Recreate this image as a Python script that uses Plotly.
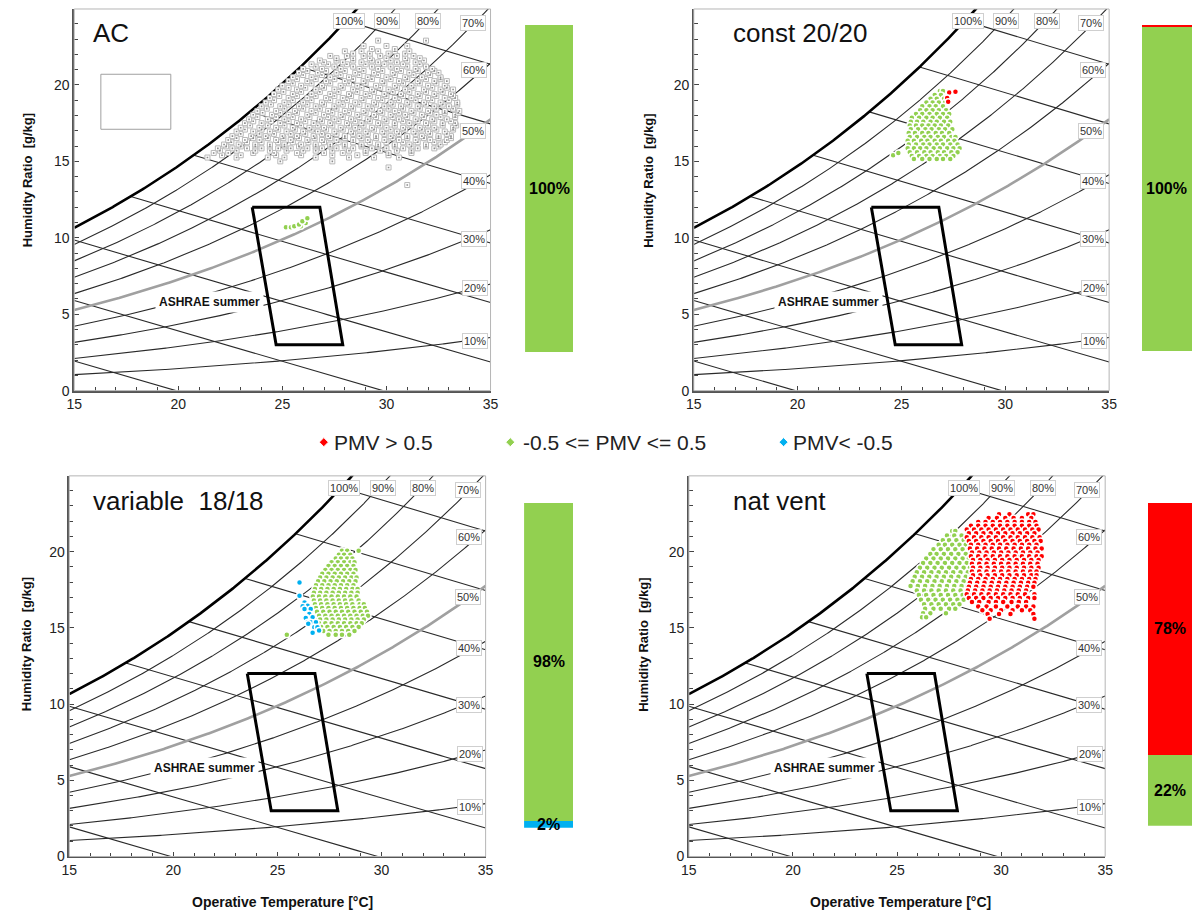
import numpy as np
import plotly.graph_objects as go

# the page adds an 8 px body margin; every position is shifted by 8 px to compensate
PAGE_OFF = 8
FIG_W, FIG_H = 1200 - PAGE_OFF, 920 - PAGE_OFF
FONT = "Arial, 'Liberation Sans', sans-serif"
P_ATM = 101.325

# ---------------- chart data ----------------
RH_LEVELS = [10, 20, 30, 40, 50, 60, 70, 80, 90, 100]
RH_LABELS = ["10%", "20%", "30%", "40%", "50%", "60%", "70%", "80%", "90%", "100%"]
RH_LABEL_T = [34.25, 34.25, 34.2, 34.2, 34.15, 34.2, 34.15, 32.0, 30.05, 28.2]
RH_LABEL_W = [3.25, 6.7, 9.95, 13.7, 17.0, 20.97, 24.07, 24.2, 24.2, 24.2]
ENTHALPY_LEVELS = [20, 30, 40, 50, 60, 70, 80, 90]

ASHRAE_T = [23.55, 26.8, 27.9, 24.7, 23.55]
ASHRAE_W = [12.0, 12.0, 3.0, 3.0, 12.0]
ASHRAE_LABEL = ("ASHRAE summer", 21.5, 5.8)

PANEL_TITLES = ["AC", "const 20/20", "variable\u00a0 18/18", "nat vent"]

BAR_BLUE = [0, 0, 2, 0]
BAR_GREEN = [100, 99.6, 98, 22]
BAR_RED = [0, 0.4, 0, 78]
BAR_TEXT_BLUE = ["", "", "2%", ""]
BAR_TEXT_GREEN = ["100%", "100%", "98%", "22%"]
BAR_TEXT_RED = ["", "", "", "78%"]

LEGEND_NAMES = ["PMV &gt; 0.5", "-0.5 &lt;= PMV &lt;= 0.5", "PMV&lt; -0.5"]

C_RED = "#FF0000"
C_GREEN = "#92D050"
C_BLUE = "#00B0F0"

# scatter clouds: "W : T T T ..."  (humidity ratio g/kg : operative temperature degC)
AC_GREY = [
    "13.45: 31.0", "14.6: 30.1", "15.0: 24.9 27.4",
    "15.25: 21.4 22.8 24.3 25.1 26.6 28.2 29.4 30.6",
    "15.4: 22.1 23.0 24.7 25.9 27.4 28.6 30.1",
    "15.55: 21.7 22.4 23.6 24.6 25.7 27.0 27.9 29.0 30.1 31.2",
    "15.7: 22.0 22.8 23.7 24.4 25.2 26.0 26.6 27.4 28.2 29.0 29.7 30.5 31.2",
    "15.85: 21.9 22.6 23.3 24.0 24.8 25.4 26.2 26.9 27.6 28.4 29.3 30.0 30.8 31.5 32.3",
    "15.98: 22.3 23.0 23.7 24.4 25.1 25.8 26.6 27.3 28.0 28.8 29.6 30.4 31.2 31.9 32.5",
    "16.1: 22.2 22.9 23.7 24.4 25.1 25.9 26.6 27.3 28.0 28.8 29.6 30.4 31.1 31.9 32.6",
    "16.25: 22.55 23.3 24.0 24.8 25.5 26.25 27.0 27.7 28.4 29.2 30.0 30.8 31.5 32.3 32.8",
    "16.4: 22.4 23.2 23.9 24.7 25.4 26.2 26.9 27.6 28.4 29.1 29.9 30.6 31.4 32.1 32.9",
    "16.52: 22.8 23.6 24.3 25.05 25.8 26.55 27.3 28.0 28.8 29.5 30.3 31.0 31.8 32.5 33.1",
    "16.65: 22.6 23.5 24.2 25.0 25.7 26.5 27.2 28.0 28.7 29.5 30.2 31.0 31.7 32.5 33.1",
    "16.8: 23.0 23.9 24.6 25.4 26.1 26.9 27.6 28.4 29.1 29.9 30.6 31.4 32.1 32.9",
    "16.95: 22.8 23.6 24.4 25.2 26.0 26.7 27.5 28.3 29.0 29.8 30.5 31.3 32.0 32.8",
    "17.08: 23.2 24.0 24.8 25.6 26.4 27.1 27.9 28.7 29.4 30.2 30.9 31.7 32.4 33.2",
    "17.2: 23.0 23.9 24.7 25.5 26.3 27.0 27.8 28.5 29.3 30.0 30.8 31.6 32.3 33.2",
    "17.35: 23.45 24.3 25.1 25.9 26.7 27.4 28.2 28.9 29.7 30.4 31.2 32.0 32.7 33.35",
    "17.5: 23.2 24.0 24.9 25.7 26.5 27.3 28.1 28.8 29.6 30.4 31.1 31.9 32.7 33.3",
    "17.62: 23.6 24.45 25.3 26.1 26.9 27.7 28.5 29.2 30.0 30.8 31.5 32.3 33.1",
    "17.75: 23.4 24.3 25.1 25.9 26.8 27.5 28.3 29.1 29.9 30.6 31.4 32.2 32.9",
    "17.9: 23.8 24.7 25.5 26.3 27.2 27.9 28.7 29.5 30.3 31.0 31.8 32.6 33.3",
    "18.05: 23.6 24.5 25.3 26.2 27.0 27.8 28.6 29.4 30.2 30.9 31.7 32.4 33.3",
    "18.18: 24.05 24.9 25.7 26.6 27.4 28.2 29.0 29.8 30.6 31.3 32.1 32.8 33.45",
    "18.3: 23.8 24.7 25.6 26.4 27.2 28.0 28.9 29.7 30.4 31.2 32.0 32.8 33.5",
    "18.45: 24.25 25.1 26.0 26.8 27.6 28.4 29.3 30.1 30.8 31.6 32.4 33.2",
    "18.6: 24.0 24.9 25.8 26.6 27.5 28.3 29.1 29.9 30.7 31.5 32.3 33.0",
    "18.72: 24.45 25.3 26.2 27.0 27.9 28.7 29.5 30.3 31.1 31.9 32.7 33.4",
    "18.85: 24.2 25.1 26.0 26.9 27.7 28.5 29.4 30.2 31.0 31.8 32.6 33.4",
    "19.0: 24.6 25.5 26.4 27.3 28.1 28.9 29.8 30.6 31.4 32.2 33.0",
    "19.15: 24.4 25.3 26.2 27.1 27.9 28.8 29.6 30.4 31.2 32.0 32.8 33.3",
    "19.28: 24.85 25.7 26.6 27.5 28.3 29.2 30.0 30.8 31.6 32.4 33.2",
    "19.4: 24.6 25.5 26.4 27.3 28.2 29.0 29.9 30.7 31.5 32.3 33.1",
    "19.55: 25.05 25.9 26.8 27.7 28.6 29.4 30.3 31.1 31.9 32.7",
    "19.7: 24.8 25.7 26.6 27.5 28.4 29.3 30.1 30.9 31.8 32.6 33.2",
    "19.82: 25.3 26.1 27.0 27.9 28.8 29.7 30.5 31.3 32.2 32.9",
    "19.95: 25.0 25.9 26.9 27.8 28.6 29.5 30.4 31.2 32.0 32.8",
    "20.1: 25.5 26.4 27.3 28.2 29.0 29.9 30.8 31.6 32.4",
    "20.25: 25.3 26.2 27.1 28.0 28.9 29.8 30.6 31.5 32.3 32.9",
    "20.38: 25.7 26.6 27.5 28.4 29.3 30.2 31.0 31.9 32.6",
    "20.5: 25.5 26.4 27.3 28.2 29.1 30.0 30.9 31.7 32.6",
    "20.65: 26.0 26.9 27.8 28.7 29.6 30.4 31.3 32.1",
    "20.8: 25.8 26.7 27.6 28.5 29.4 30.3 31.1 32.0 32.5",
    "20.92: 26.2 27.1 28.0 28.9 29.8 30.7 31.5 32.3",
    "21.05: 26.0 26.9 27.8 28.7 29.6 30.5 31.4 32.2",
    "21.2: 26.6 27.5 28.4 29.3 30.2 31.0 31.9",
    "21.35: 26.4 27.2 28.1 29.0 29.9 30.8 31.6",
    "21.48: 27.0 27.9 28.8 29.6 30.5 31.4",
    "21.6: 26.8 27.6 28.4 29.3 30.2 31.0 31.8",
    "21.75: 27.6 28.4 29.2 30.0 30.9 31.6",
    "21.9: 27.3 28.1 28.9 29.7 30.5 31.3",
    "22.05: 28.4 29.2 30.1 30.9",
    "22.2: 28.0 28.8 29.6 30.4 31.1",
    "22.35: 29.3 30.4",
    "22.55: 28.9 30.0 31.0",
    "22.9: 29.6 31.9",
]
AC_GREEN = ["10.69: 25.17 25.41", "10.76: 25.57 25.89", "10.87: 25.8",
            "10.97: 26.12", "11.08: 25.96", "11.27: 26.2"]

CONST_GREEN = [
    "15.4: 24.6", "15.55: 24.85",
    "19.6: 26.85 27.0",
    "19.35: 26.6 26.9",
    "19.1: 26.4 26.7 27.05",
    "18.85: 26.2 26.5 26.8 27.1",
    "18.6: 26.0 26.35 26.65 27.0",
    "18.35: 25.9 26.2 26.5 26.8 27.15",
    "18.1: 25.7 26.0 26.35 26.7 27.0 27.3",
    "17.85: 25.5 25.85 26.2 26.5 26.85 27.2",
    "17.6: 25.45 25.75 26.05 26.4 26.7 27.05 27.35",
    "17.35: 25.4 25.7 26.0 26.3 26.6 26.9 27.25",
    "17.1: 25.45 25.8 26.15 26.45 26.8 27.1 27.45",
    "16.85: 25.35 25.65 26.0 26.3 26.65 26.95 27.3",
    "16.6: 25.4 25.75 26.1 26.4 26.75 27.05 27.4 27.6",
    "16.35: 25.3 25.6 25.95 26.25 26.6 26.9 27.25 27.55",
    "16.1: 25.35 25.7 26.05 26.35 26.7 27.0 27.35 27.7",
    "15.85: 25.3 25.6 25.9 26.2 26.55 26.85 27.2 27.5 27.8",
    "15.6: 25.4 25.75 26.1 26.4 26.75 27.05 27.4 27.7",
    "15.35: 25.5 25.85 26.2 26.5 26.85 27.15 27.5",
    "15.15: 25.6 26.0 26.35 26.7 27.0 27.35",
]
CONST_RED = ["19.5: 27.3", "19.55: 27.6", "19.15: 27.2", "18.9: 27.25"]

VAR_GREEN = [
    "14.55: 25.45",
    "20.05: 28.1 28.35 28.9",
    "19.8: 27.95 28.2 28.5",
    "19.55: 27.8 28.05 28.35 28.6",
    "19.3: 27.6 27.9 28.2 28.5 28.7",
    "19.05: 27.45 27.75 28.05 28.35 28.65",
    "18.8: 27.3 27.6 27.9 28.2 28.5 28.75",
    "18.55: 27.15 27.45 27.75 28.05 28.35 28.65",
    "18.3: 27.05 27.35 27.65 27.95 28.25 28.55 28.8",
    "18.05: 26.95 27.25 27.55 27.85 28.15 28.45 28.75",
    "17.8: 26.85 27.15 27.45 27.75 28.05 28.35 28.65",
    "17.55: 26.8 27.1 27.4 27.7 28.0 28.3 28.6 28.85",
    "17.3: 26.75 27.05 27.35 27.65 27.95 28.25 28.55 28.85",
    "17.05: 26.7 27.0 27.3 27.6 27.9 28.2 28.5 28.8",
    "16.8: 26.75 27.05 27.35 27.65 27.95 28.25 28.55 28.9",
    "16.55: 26.8 27.1 27.4 27.7 28.0 28.3 28.6 28.95 29.15",
    "16.3: 26.85 27.15 27.45 27.75 28.05 28.35 28.65 28.95 29.2",
    "16.05: 26.9 27.2 27.5 27.8 28.1 28.4 28.7 29.0 29.3",
    "15.8: 27.0 27.3 27.6 27.9 28.2 28.5 28.8 29.1 29.35",
    "15.55: 27.05 27.35 27.65 27.95 28.25 28.55 28.85 29.15",
    "15.3: 27.0 27.3 27.6 27.9 28.2 28.5 28.8 29.05",
    "15.05: 27.1 27.4 27.7 28.0 28.3 28.6 28.9",
    "14.8: 27.2 27.5 27.8 28.1 28.4 28.7",
    "14.55: 27.45 27.8 28.1 28.45",
]
VAR_BLUE = [
    "17.97: 26.06", "17.1: 26.06", "16.67: 26.3", "16.45: 26.45", "16.41: 26.21",
    "16.23: 26.3 26.6", "15.9: 26.53", "15.69: 26.37 26.69", "15.65: 26.36",
    "15.36: 26.45 26.6 26.85", "15.26: 26.48", "15.04: 26.77 26.92",
    "14.82: 27.0", "14.68: 26.69",
]

NAT_GREEN = [
    "21.35: 27.65 27.8",
    "21.05: 27.4 27.75 28.1",
    "20.75: 27.2 27.5 27.85 28.2",
    "20.45: 27.0 27.3 27.65 28.0 28.3",
    "20.15: 26.75 27.1 27.45 27.8 28.15 28.45",
    "19.85: 26.6 26.9 27.25 27.6 27.95 28.3",
    "19.55: 26.4 26.75 27.1 27.45 27.8 28.15 28.45",
    "19.25: 26.25 26.6 26.95 27.3 27.65 28.0 28.35",
    "18.95: 26.1 26.45 26.8 27.15 27.5 27.85 28.2 28.5",
    "18.65: 25.95 26.3 26.65 27.0 27.35 27.7 28.05 28.4",
    "18.35: 25.85 26.2 26.55 26.9 27.25 27.6 27.95 28.3 28.55",
    "18.05: 25.75 26.1 26.45 26.8 27.15 27.5 27.85 28.2 28.5",
    "17.75: 25.65 26.0 26.35 26.7 27.05 27.4 27.75 28.1 28.4",
    "17.45: 25.95 26.3 26.65 27.0 27.35 27.7 28.05 28.35",
    "17.15: 26.05 26.4 26.75 27.1 27.45 27.8 28.15",
    "16.85: 26.15 26.5 26.85 27.2 27.55 27.9 28.2",
    "16.55: 26.3 26.65 27.0 27.35 27.7 28.0",
    "16.25: 26.35 26.75 27.1 27.5 27.8",
    "15.95: 26.25 26.6 27.35",
    "15.7: 26.2 26.4",
]
NAT_RED = [
    "22.45: 29.9 30.4 31.3 31.55",
    "22.2: 29.4 29.8 30.2 30.6 31.0 31.45",
    "21.95: 28.9 29.25 29.6 29.95 30.3 30.65 31.0 31.35 31.65",
    "21.7: 28.55 28.9 29.25 29.6 29.95 30.3 30.65 31.0 31.35 31.7",
    "21.45: 28.35 28.7 29.05 29.4 29.75 30.1 30.45 30.8 31.15 31.5 31.8",
    "21.2: 28.45 28.8 29.15 29.5 29.85 30.2 30.55 30.9 31.25 31.6",
    "20.95: 28.35 28.7 29.05 29.4 29.75 30.1 30.45 30.8 31.15 31.5 31.85",
    "20.7: 28.45 28.8 29.15 29.5 29.85 30.2 30.55 30.9 31.25 31.6 31.9",
    "20.45: 28.55 28.9 29.25 29.6 29.95 30.3 30.65 31.0 31.35 31.7",
    "20.2: 28.5 28.85 29.2 29.55 29.9 30.25 30.6 30.95 31.3 31.65 31.95",
    "19.95: 28.6 28.95 29.3 29.65 30.0 30.35 30.7 31.05 31.4 31.75",
    "19.7: 28.55 28.9 29.25 29.6 29.95 30.3 30.65 31.0 31.35 31.7 31.95",
    "19.45: 28.65 29.0 29.35 29.7 30.05 30.4 30.75 31.1 31.45 31.8",
    "19.2: 28.6 28.95 29.3 29.65 30.0 30.35 30.7 31.05 31.4 31.75",
    "18.95: 28.65 29.0 29.35 29.7 30.05 30.4 30.75 31.1 31.45 31.8",
    "18.7: 28.6 28.95 29.3 29.65 30.0 30.35 30.7 31.05 31.4 31.7",
    "18.45: 28.65 29.0 29.35 29.7 30.05 30.4 30.75 31.1 31.45 31.7",
    "18.2: 28.55 28.9 29.25 29.6 29.95 30.3 30.65 31.0 31.35 31.65",
    "17.95: 28.5 28.85 29.2 29.55 29.9 30.25 30.6 30.95 31.3 31.6",
    "17.7: 28.45 28.8 29.15 29.5 29.85 30.2 30.55 30.9 31.25 31.55",
    "17.45: 28.4 28.75 29.1 29.45 29.8 30.15 30.5 30.85 31.2",
    "17.2: 28.35 28.7 29.05 29.4 29.75 30.1 30.45 30.8 31.15 31.6",
    "16.95: 28.45 28.8 29.15 29.5 29.85 30.2 30.55 30.9 31.3 31.6",
    "16.7: 28.6 28.95 29.4 29.75 30.1 30.5 30.85 31.2",
    "16.4: 28.9 29.3 29.75 30.3 30.8 31.2 31.55",
    "16.15: 29.1 29.5 30.0 30.55 31.0 31.4",
    "15.9: 29.35 29.9 30.45 31.55",
    "15.6: 29.45 31.6",
]

# ---------------- layout geometry (window pixels) ----------------
PANEL_BOX = [(67, 489, 9, 394), (695, 1116, 9, 394), (62, 484, 480, 864), (690, 1112, 480, 864)]
BAR_BOX = [(524, 573, 25, 355), (1149, 1200, 25, 354), (523, 573, 507, 835), (1155, 1200, 507, 833)]
TITLE_POS = [(84, 33), (733, 33), (84, 505), (733, 505)]
YTITLE_POS = [(20, 182), (649, 182), (19, 650), (644, 650)]
XTITLE_POS = [None, None, (278, 910), (905, 910)]
LEGEND_MARK_X = [320, 509, 786]
LEGEND_TEXT_X = [328, 520, 794]
LEGEND_Y = 446


def px(x):
    return min(1.0, max(0.0, (x - PAGE_OFF) / FIG_W))


def py(y):
    return min(1.0, max(0.0, 1 - (y - PAGE_OFF) / FIG_H))


def parse_rows(rows):
    xs, ys = [], []
    for row in rows:
        w_str, t_str = row.split(":")
        for v in t_str.split():
            xs.append(float(v))
            ys.append(float(w_str))
    return xs, ys


def w_rh(t, rh):
    ps = 0.61078 * np.exp(17.27 * t / (t + 237.3))
    pv = rh / 100.0 * ps
    return 622.0 * pv / (P_ATM - pv)


def w_h(t, h):
    return 1000.0 * (h - 1.006 * t) / (2501.0 + 1.86 * t)


def enthalpy_segment(h):
    if w_h(15.0, h) <= w_rh(15.0, 100):
        t0 = 15.0
    else:
        lo, hi = 15.0, 35.0
        for _ in range(60):
            mid = 0.5 * (lo + hi)
            if w_h(mid, h) > w_rh(mid, 100):
                lo = mid
            else:
                hi = mid
        t0 = hi
    t1 = min(35.0, h / 1.006)
    t = np.linspace(t0, t1, 80)
    return t, w_h(t, h)


def axn(kind, n):
    return kind if n == 1 else f"{kind}{n}"


fig = go.Figure()
annotations = []
shapes = []

CLOUDS = [
    [("grey", AC_GREY), (C_GREEN, AC_GREEN)],
    [(C_GREEN, CONST_GREEN), (C_RED, CONST_RED)],
    [(C_GREEN, VAR_GREEN), (C_BLUE, VAR_BLUE)],
    [(C_GREEN, NAT_GREEN), (C_RED, NAT_RED)],
]

t_grid = np.linspace(15, 35, 401)
for i in range(4):
    n = i + 1
    xa, ya = axn("x", n), axn("y", n)
    for h in ENTHALPY_LEVELS:
        tt, ww = enthalpy_segment(h)
        fig.add_trace(go.Scatter(x=tt, y=ww, mode="lines", xaxis=xa, yaxis=ya,
                                 line=dict(color="#2a2a2a", width=1.1),
                                 hoverinfo="skip", showlegend=False))
    for rh in RH_LEVELS:
        if rh == 100:
            ln = dict(color="#000000", width=2.6)
        elif rh == 50:
            ln = dict(color="#a0a0a0", width=2.6)
        else:
            ln = dict(color="#2a2a2a", width=1.1)
        fig.add_trace(go.Scatter(x=t_grid, y=w_rh(t_grid, rh), mode="lines", xaxis=xa, yaxis=ya,
                                 line=ln, hoverinfo="skip", showlegend=False))
    fig.add_trace(go.Scatter(x=ASHRAE_T, y=ASHRAE_W, mode="lines", xaxis=xa, yaxis=ya,
                             line=dict(color="#000000", width=3),
                             hoverinfo="skip", showlegend=False))
    for color, rows in CLOUDS[i]:
        cx, cy = parse_rows(rows)
        if color == "grey":
            fig.add_trace(go.Scatter(x=cx, y=cy, mode="markers", xaxis=xa, yaxis=ya,
                                     marker=dict(symbol="square", size=5, color="white",
                                                 line=dict(color="#b8b8b8", width=1)),
                                     hoverinfo="skip", showlegend=False))
            fig.add_trace(go.Scatter(x=cx, y=cy, mode="markers", xaxis=xa, yaxis=ya,
                                     marker=dict(symbol="square", size=1.6, color="#8a8a8a"),
                                     hoverinfo="skip", showlegend=False))
        else:
            fig.add_trace(go.Scatter(x=cx, y=cy, mode="markers", xaxis=xa, yaxis=ya,
                                     marker=dict(symbol="circle", size=6, color=color,
                                                 line=dict(color="white", width=1.5)),
                                     hoverinfo="skip", showlegend=False))
    for lab, lt, lw in zip(RH_LABELS, RH_LABEL_T, RH_LABEL_W):
        annotations.append(dict(x=lt, y=lw, xref=xa, yref=ya, text=lab, showarrow=False,
                                xanchor="center", yanchor="middle",
                                font=dict(family=FONT, size=11, color="#333333"),
                                bgcolor="white", bordercolor="#cfcfcf", borderwidth=1,
                                borderpad=1))
    annotations.append(dict(x=ASHRAE_LABEL[1], y=ASHRAE_LABEL[2], xref=xa, yref=ya,
                            xanchor="center", yanchor="middle",
                            text="<b>" + ASHRAE_LABEL[0] + "</b>", showarrow=False,
                            font=dict(family=FONT, size=12, color="#111111"),
                            bgcolor="white", borderpad=3))
    tx, ty = TITLE_POS[i]
    annotations.append(dict(x=px(tx), y=py(ty), xref="paper", yref="paper", xanchor="left",
                            yanchor="middle", text=PANEL_TITLES[i], showarrow=False,
                            font=dict(family=FONT, size=26, color="#111111")))
    yx, yy = YTITLE_POS[i]
    annotations.append(dict(x=px(yx), y=py(yy), xref="paper", yref="paper",
                            xanchor="center", yanchor="middle",
                            text="<b>Humidity Ratio  [g/kg]</b>", textangle=-90, showarrow=False,
                            font=dict(family=FONT, size=13, color="#111111")))
    if XTITLE_POS[i]:
        xx, xy = XTITLE_POS[i]
        annotations.append(dict(x=px(xx), y=py(xy), xref="paper", yref="paper",
                                xanchor="center", yanchor="middle",
                                text="<b>Operative Temperature [°C]</b>", showarrow=False,
                                font=dict(family=FONT, size=14, color="#111111")))
    shapes.append(dict(type="rect", xref=f"{xa} domain", yref=f"{ya} domain",
                       x0=0, x1=1, y0=0, y1=1, line=dict(color="#b5b5b5", width=1),
                       layer="above"))

shapes.append(dict(type="rect", xref="x", yref="y", x0=16.28, x1=19.64, y0=17.1, y1=20.7,
                   line=dict(color="#a0a0a0", width=1)))

# ---------------- bars ----------------
for i in range(4):
    n = 5 + i
    xa, ya = axn("x", n), axn("y", n)
    for vals, color in [(BAR_BLUE, C_BLUE), (BAR_GREEN, C_GREEN), (BAR_RED, C_RED)]:
        fig.add_trace(go.Bar(x=[0], y=[vals[i]], width=1, marker=dict(color=color, line=dict(width=0)),
                             xaxis=xa, yaxis=ya, hoverinfo="skip", showlegend=False))
    base = 0
    for vals, texts in [(BAR_BLUE, BAR_TEXT_BLUE), (BAR_GREEN, BAR_TEXT_GREEN), (BAR_RED, BAR_TEXT_RED)]:
        if texts[i]:
            annotations.append(dict(x=0, y=base + vals[i] / 2, xref=xa, yref=ya,
                                    xanchor="center", yanchor="middle",
                                    text="<b>" + texts[i] + "</b>", showarrow=False,
                                    font=dict(family=FONT, size=16, color="#000000")))
        base += vals[i]

# ---------------- legend row ----------------
for mx, col in zip(LEGEND_MARK_X, [C_RED, C_GREEN, C_BLUE]):
    fig.add_trace(go.Scatter(x=[mx], y=[0.5], mode="markers", xaxis="x9", yaxis="y9",
                             marker=dict(symbol="diamond", size=7, color=col,
                                         line=dict(color="white", width=1)),
                             hoverinfo="skip", showlegend=False))
for tx, name in zip(LEGEND_TEXT_X, LEGEND_NAMES):
    annotations.append(dict(x=px(tx), y=py(LEGEND_Y), xref="paper", yref="paper",
                            xanchor="left", yanchor="middle", text=name, showarrow=False,
                            font=dict(family=FONT, size=21, color="#222222")))

layout = dict(width=FIG_W, height=FIG_H, margin=dict(l=0, r=0, t=0, b=0),
              paper_bgcolor="white", plot_bgcolor="white", barmode="stack",
              annotations=annotations, shapes=shapes, showlegend=False,
              font=dict(family=FONT))

tickfont = dict(family=FONT, size=14, color="#222222")
for i in range(4):
    n = i + 1
    x0, x1, y0, y1 = PANEL_BOX[i]
    layout["xaxis" if n == 1 else f"xaxis{n}"] = dict(
        domain=[px(x0), px(x1)], range=[15, 35], anchor=axn("y", n),
        tick0=15, dtick=5, ticks="inside", ticklen=5, tickcolor="#444444",
        minor=dict(tick0=15, dtick=1, ticks="inside", ticklen=4, tickcolor="#444444"),
        showline=True, linecolor="#555555", linewidth=1.5, showgrid=False, zeroline=False,
        tickfont=tickfont, fixedrange=True)
    layout["yaxis" if n == 1 else f"yaxis{n}"] = dict(
        domain=[py(y1), py(y0)], range=[0, 24.97], anchor=axn("x", n),
        tick0=0, dtick=5, ticks="inside", ticklen=5, tickcolor="#444444",
        minor=dict(tick0=0, dtick=1, ticks="inside", ticklen=4, tickcolor="#444444"),
        showline=True, linecolor="#555555", linewidth=1.5, showgrid=False, zeroline=False,
        tickfont=tickfont, fixedrange=True)
for i in range(4):
    n = 5 + i
    x0, x1, y0, y1 = BAR_BOX[i]
    layout[f"xaxis{n}"] = dict(domain=[px(x0), px(x1)], range=[-0.5, 0.5], anchor=f"y{n}",
                               visible=False, fixedrange=True)
    layout[f"yaxis{n}"] = dict(domain=[py(y1), py(y0)], range=[0, 100], anchor=f"x{n}",
                               visible=False, fixedrange=True)
layout["xaxis9"] = dict(domain=[0, 1], range=[PAGE_OFF, PAGE_OFF + FIG_W], anchor="y9",
                        visible=False, fixedrange=True)
layout["yaxis9"] = dict(domain=[py(LEGEND_Y + 12), py(LEGEND_Y - 12)], range=[0, 1], anchor="x9",
                        visible=False, fixedrange=True)

fig.update_layout(**layout)
fig.write_html("out.html")
